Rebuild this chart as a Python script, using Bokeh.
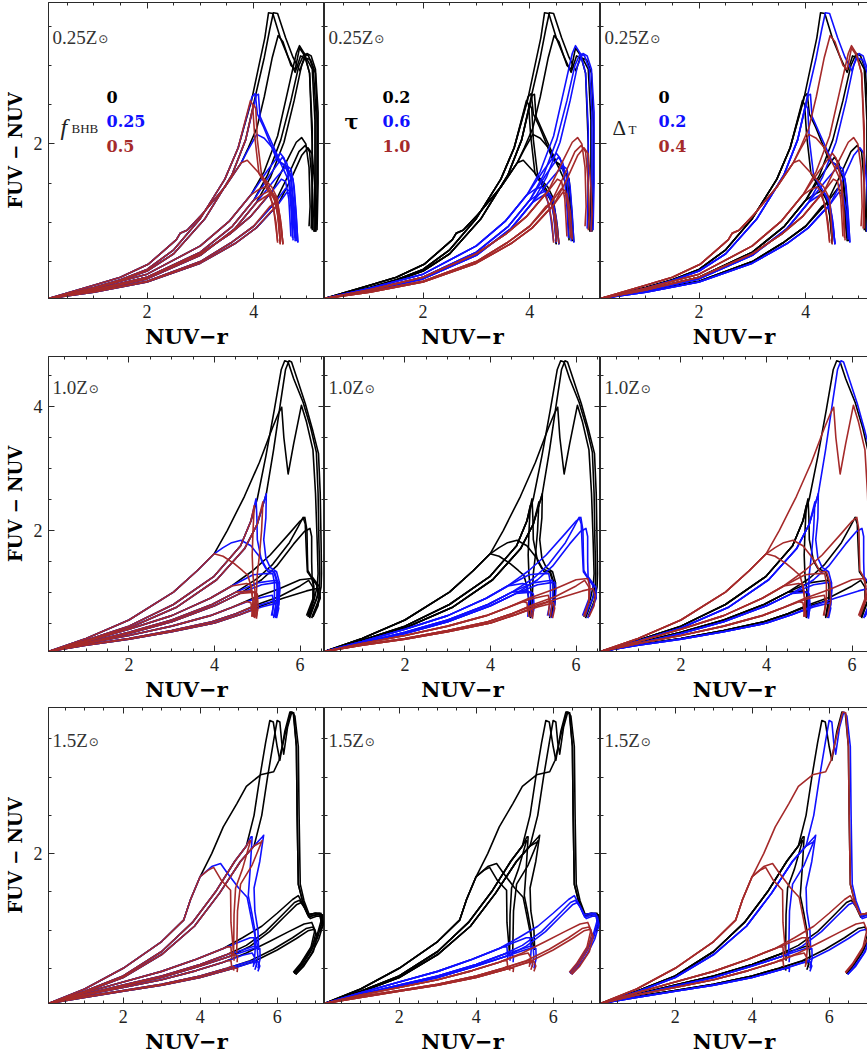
from bokeh.plotting import figure
from bokeh.layouts import gridplot
from bokeh.models import Range1d, LinearAxis, SingleIntervalTicker, ColumnDataSource
from bokeh.core.properties import value
from bokeh.embed import file_html
from bokeh.resources import INLINE

# ---------------- labels / parameters ----------------
METALLICITY = ["0.25", "1.0", "1.5"]
F_BHB = ["0", "0.25", "0.5"]
TAU = ["0.2", "0.6", "1.0"]
DELTA_T = ["0", "0.2", "0.4"]
X_RANGES = [(0.15, 5.33), (0.12, 6.57), (0.06, 7.23)]
Y_RANGES = [(0.03, 3.80), (0.04, 4.81), (0.04, 3.91)]

# ---------------- tracks: rise (shared by f_BHB) + tail per f_BHB ----------------
# Z1 = 0.25 Zsun ; T0/T1/T2 = tau 0.2/0.6/1.0 ; D0/D1/D2 = Delta_T 0/0.2/0.4 ; F0/F1/F2 = f_BHB 0/0.25/0.5
Z1_RISE_T0_D0 = [(0.15,0.03),(1.0,0.17),(1.5,0.27),(2.0,0.4),(2.5,0.65),(3.0,1.05),(3.46,1.55),(3.71,1.95)]
Z1_T0_D0_F0 = [(3.96,2.55),(4.1,3.0),(4.21,3.35),(4.28,3.67),(4.36,3.66),(4.5,3.35),(4.65,3.1),(4.78,2.91),(4.88,3.12),(5.0,3.08),(5.1,2.95),(5.15,2.3),(5.15,1.5),(5.13,0.88)]
Z1_T0_D0_F1 = [(3.97,2.6),(4.03,2.64),(4.07,2.38),(4.19,2.21),(4.44,1.79),(4.56,1.74),(4.7,1.58),(4.76,1.2),(4.8,0.76)]
Z1_T0_D0_F2 = [(3.94,2.55),(3.98,2.5),(4.02,2.1),(4.1,1.62),(4.28,1.42),(4.42,1.25),(4.48,0.95),(4.5,0.72)]
Z1_RISE_T0_D1 = [(0.15,0.03),(1.0,0.16),(1.5,0.26),(2.0,0.38),(2.5,0.6),(3.09,1.05),(3.59,1.6),(3.85,2.05)]
Z1_T0_D1_F0 = [(4.03,2.6),(4.2,3.1),(4.3,3.45),(4.37,3.67),(4.45,3.66),(4.6,3.35),(4.74,3.1),(4.87,2.93),(4.95,3.1),(5.07,3.07),(5.16,2.9),(5.2,2.2),(5.19,1.4),(5.17,0.88)]
Z1_T0_D1_F1 = [(4.05,2.62),(4.09,2.63),(4.12,2.35),(4.25,2.15),(4.5,1.77),(4.62,1.7),(4.74,1.55),(4.79,1.15),(4.83,0.75)]
Z1_T0_D1_F2 = [(4.0,2.5),(4.04,2.45),(4.07,2.05),(4.15,1.6),(4.33,1.4),(4.46,1.22),(4.52,0.95),(4.55,0.72)]
Z1_RISE_T0_D2 = [(0.15,0.03),(1.0,0.2),(1.5,0.3),(2.03,0.47),(2.45,0.72),(2.55,0.78),(2.62,0.86),(2.75,0.9),(3.03,1.1),(3.46,1.45),(3.77,1.76)]
Z1_T0_D2_F0 = [(3.9,1.95),(4.06,2.2),(4.2,2.6),(4.35,3.1),(4.46,3.38),(4.55,3.3),(4.7,3.0),(4.78,2.95),(4.86,3.22),(4.96,3.12),(5.05,2.9),(5.1,2.0),(5.1,0.92)]
Z1_T0_D2_F1 = [(3.9,1.93),(4.06,2.12),(4.2,2.07),(4.34,1.96),(4.53,1.72),(4.68,1.5),(4.72,1.1),(4.74,0.77)]
Z1_T0_D2_F2 = [(3.88,1.79),(4.03,1.68),(4.34,1.45),(4.45,1.3),(4.48,1.0),(4.5,0.72)]
Z1_RISE_T1_D0 = [(0.15,0.03),(1.0,0.14),(2.0,0.3),(3.0,0.62),(3.6,0.95),(4.0,1.28)]
Z1_T1_D0_F0 = [(4.26,1.6),(4.51,2.05),(4.7,2.55),(4.85,3.0),(4.95,3.15),(5.03,3.12),(5.12,2.95),(5.17,2.4),(5.17,1.5),(5.15,0.88)]
Z1_T1_D0_F1 = [(4.3,1.6),(4.54,1.83),(4.62,1.76),(4.7,1.55),(4.74,1.2),(4.78,0.76)]
Z1_T1_D0_F2 = [(4.15,1.35),(4.29,1.4),(4.38,1.32),(4.45,1.1),(4.5,0.74)]
Z1_RISE_T1_D1 = [(0.15,0.03),(1.0,0.13),(2.0,0.28),(3.0,0.58),(3.65,0.92),(4.05,1.25)]
Z1_T1_D1_F0 = [(4.32,1.58),(4.57,2.02),(4.76,2.55),(4.9,3.0),(5.0,3.15),(5.08,3.12),(5.16,2.95),(5.21,2.4),(5.21,1.5),(5.19,0.9)]
Z1_T1_D1_F1 = [(4.4,1.55),(4.62,1.72),(4.7,1.68),(4.76,1.45),(4.8,1.1),(4.83,0.74)]
Z1_T1_D1_F2 = [(4.2,1.32),(4.35,1.38),(4.43,1.3),(4.5,1.05),(4.55,0.72)]
Z1_RISE_T1_D2 = [(0.15,0.03),(1.0,0.16),(2.0,0.34),(3.0,0.7),(3.55,1.02),(3.95,1.35)]
Z1_T1_D2_F0 = [(4.2,1.65),(4.45,2.1),(4.65,2.7),(4.8,3.15),(4.86,3.25),(4.95,3.15),(5.05,2.9),(5.1,2.2),(5.1,1.4),(5.08,0.92)]
Z1_T1_D2_F1 = [(4.25,1.65),(4.5,1.88),(4.57,1.82),(4.65,1.6),(4.7,1.2),(4.73,0.8)]
Z1_T1_D2_F2 = [(4.1,1.42),(4.22,1.45),(4.3,1.38),(4.38,1.15),(4.45,0.76)]
Z1_RISE_T2_D0 = [(0.15,0.03),(1.0,0.12),(2.0,0.25),(3.0,0.5),(3.6,0.75),(4.0,0.95)]
Z1_T2_D0_F0 = [(4.4,1.25),(4.65,1.6),(4.85,1.9),(4.97,1.98),(5.05,1.9),(5.1,1.5),(5.12,1.1),(5.1,0.9)]
Z1_T2_D0_F1 = [(4.4,1.25),(4.6,1.43),(4.67,1.4),(4.72,1.2),(4.75,0.95),(4.78,0.8)]
Z1_T2_D0_F2 = [(4.3,1.2),(4.4,1.25),(4.45,1.15),(4.48,0.95),(4.5,0.75)]
Z1_RISE_T2_D1 = [(0.15,0.03),(1.0,0.11),(2.0,0.24),(3.0,0.48),(3.65,0.73),(4.05,0.93)]
Z1_T2_D1_F0 = [(4.45,1.22),(4.7,1.55),(4.9,1.85),(5.02,1.95),(5.1,1.87),(5.15,1.45),(5.17,1.1),(5.15,0.88)]
Z1_T2_D1_F1 = [(4.45,1.22),(4.62,1.38),(4.7,1.36),(4.76,1.15),(4.8,0.78)]
Z1_T2_D1_F2 = [(4.3,1.12),(4.42,1.2),(4.48,1.1),(4.52,0.9),(4.55,0.73)]
Z1_RISE_T2_D2 = [(0.15,0.03),(1.0,0.14),(2.0,0.3),(3.0,0.6),(3.55,0.85),(3.95,1.08)]
Z1_T2_D2_F0 = [(4.35,1.4),(4.6,1.75),(4.8,2.02),(4.9,2.08),(4.98,2.0),(5.04,1.7),(5.06,1.2),(5.04,0.95)]
Z1_T2_D2_F1 = [(4.35,1.4),(4.52,1.55),(4.6,1.52),(4.66,1.3),(4.7,0.82)]
Z1_T2_D2_F2 = [(4.22,1.3),(4.28,1.36),(4.35,1.25),(4.42,1.0),(4.45,0.74)]

# Z2 = 1.0 Zsun
Z2_RISE_T0_D0 = [(0.12,0.04),(1.0,0.22),(2.0,0.45),(3.04,0.8),(3.98,1.25),(4.61,1.75),(4.85,2.15)]
Z2_T0_D0_F0 = [(5.0,2.51),(5.2,3.2),(5.4,3.96),(5.56,4.6),(5.64,4.74),(5.72,4.72),(5.85,4.45),(6.07,4.07),(6.25,3.65),(6.38,3.26),(6.42,2.6),(6.44,1.8),(6.46,1.3),(6.45,1.1),(6.38,0.88),(6.22,0.58)]
Z2_T0_D0_F1 = [(4.97,2.51),(4.99,2.2),(5.0,1.85),(5.1,1.5),(5.2,1.38),(5.38,1.33),(5.46,1.17),(5.47,0.8),(5.38,0.58)]
Z2_T0_D0_F2 = [(4.93,2.4),(4.9,2.0),(4.88,1.6),(4.9,1.25),(4.95,1.0),(4.93,0.58)]
Z2_RISE_T0_D1 = [(0.12,0.04),(1.0,0.21),(2.0,0.42),(3.1,0.75),(4.05,1.2),(4.7,1.7),(5.0,2.1)]
Z2_T0_D1_F0 = [(5.21,2.59),(5.38,3.3),(5.55,4.1),(5.66,4.6),(5.74,4.74),(5.8,4.72),(5.93,4.45),(6.12,4.05),(6.3,3.6),(6.43,3.24),(6.47,2.6),(6.49,1.8),(6.5,1.3),(6.49,1.08),(6.42,0.85),(6.28,0.6)]
Z2_T0_D1_F1 = [(5.21,2.59),(5.2,2.2),(5.15,1.85),(5.2,1.55),(5.3,1.4),(5.45,1.33),(5.52,1.15),(5.5,0.8),(5.42,0.6)]
Z2_T0_D1_F2 = [(5.13,2.46),(5.1,2.0),(5.05,1.6),(5.0,1.3),(4.98,1.0),(4.97,0.6)]
Z2_RISE_T0_D2 = [(0.12,0.04),(1.0,0.25),(2.0,0.55),(3.04,1.0),(3.6,1.35),(3.99,1.62)]
Z2_T0_D2_F0 = [(4.3,2.0),(4.7,2.55),(5.05,3.1),(5.35,3.65),(5.5,3.9),(5.57,3.99),(5.62,3.5),(5.72,2.91),(5.85,3.4),(6.03,4.02),(6.15,3.75),(6.3,3.3),(6.36,2.6),(6.4,1.8),(6.42,1.3),(6.4,1.1),(6.33,0.88),(6.18,0.6)]
Z2_T0_D2_F1 = [(4.2,1.72),(4.4,1.8),(4.62,1.84),(4.85,1.75),(5.09,1.54),(5.25,1.33),(5.4,1.33),(5.48,1.15),(5.5,0.85),(5.42,0.6)]
Z2_T0_D2_F2 = [(4.2,1.58),(4.46,1.46),(4.65,1.35),(4.78,1.27),(4.85,1.1),(4.9,0.85),(4.92,0.6)]
Z2_RISE_T1_D0 = [(0.12,0.04),(1.0,0.18),(2.0,0.35),(3.0,0.55),(3.94,0.8),(4.5,1.0)]
Z2_T1_D0_F0 = [(5.0,1.22),(5.36,1.45),(5.75,1.8),(5.95,2.05),(6.07,2.21),(6.12,2.1),(6.15,1.6),(6.17,1.33),(6.39,1.11),(6.42,0.95),(6.2,0.6)]
Z2_T1_D0_F1 = [(5.0,1.15),(5.3,1.18),(5.44,1.19),(5.47,1.08),(5.45,0.85),(5.38,0.6)]
Z2_T1_D0_F2 = [(4.85,1.02),(4.93,1.0),(4.97,0.8),(4.93,0.6)]
Z2_RISE_T1_D1 = [(0.12,0.04),(1.0,0.17),(2.0,0.33),(3.0,0.52),(4.0,0.78),(4.6,0.98)]
Z2_T1_D1_F0 = [(5.1,1.2),(5.45,1.42),(5.85,1.78),(6.1,1.98),(6.23,2.03),(6.27,1.9),(6.27,1.5),(6.28,1.25),(6.46,1.08),(6.47,0.9),(6.27,0.58)]
Z2_T1_D1_F1 = [(5.1,1.12),(5.38,1.15),(5.5,1.16),(5.53,1.05),(5.5,0.8),(5.43,0.58)]
Z2_T1_D1_F2 = [(4.95,1.0),(5.0,0.97),(5.02,0.75),(4.97,0.58)]
Z2_RISE_T1_D2 = [(0.12,0.04),(1.0,0.2),(2.0,0.4),(3.0,0.62),(3.9,0.9),(4.4,1.1)]
Z2_T1_D2_F0 = [(4.9,1.35),(5.3,1.6),(5.75,1.95),(6.0,2.15),(6.11,2.21),(6.16,2.0),(6.17,1.6),(6.18,1.35),(6.3,1.2),(6.33,0.95),(6.15,0.62)]
Z2_T1_D2_F1 = [(4.9,1.28),(5.2,1.3),(5.36,1.3),(5.4,1.15),(5.4,0.85),(5.33,0.62)]
Z2_T1_D2_F2 = [(4.75,1.14),(4.85,1.12),(4.9,0.85),(4.87,0.6)]
Z2_RISE_T2_D0 = [(0.12,0.04),(1.0,0.15),(2.0,0.25),(3.0,0.38),(3.94,0.52),(4.5,0.65)]
Z2_T2_D0_F0 = [(5.0,0.8),(5.52,0.93),(6.0,1.1),(6.2,1.19),(6.3,1.08),(6.3,0.85),(6.2,0.6)]
Z2_T2_D0_F1 = [(5.0,0.78),(5.3,0.84),(5.4,0.87),(5.43,0.78),(5.4,0.6)]
Z2_T2_D0_F2 = [(4.85,0.75),(4.93,0.72),(4.95,0.6)]
Z2_RISE_T2_D1 = [(0.12,0.04),(1.0,0.14),(2.0,0.24),(3.0,0.36),(4.0,0.5),(4.6,0.64)]
Z2_T2_D1_F0 = [(5.1,0.78),(5.6,0.9),(6.15,1.02),(6.39,1.06),(6.45,0.95),(6.42,0.78),(6.3,0.6)]
Z2_T2_D1_F1 = [(5.1,0.76),(5.38,0.81),(5.47,0.83),(5.5,0.74),(5.45,0.58)]
Z2_T2_D1_F2 = [(4.95,0.73),(5.0,0.7),(4.98,0.57)]
Z2_RISE_T2_D2 = [(0.12,0.04),(1.0,0.17),(2.0,0.3),(3.0,0.45),(3.9,0.62),(4.4,0.75)]
Z2_T2_D2_F0 = [(4.9,0.9),(5.5,1.05),(6.0,1.2),(6.27,1.22),(6.32,1.1),(6.3,0.85),(6.18,0.62)]
Z2_T2_D2_F1 = [(4.9,0.88),(5.2,0.93),(5.35,0.95),(5.38,0.85),(5.35,0.62)]
Z2_T2_D2_F2 = [(4.75,0.85),(4.85,0.83),(4.9,0.6)]

# Z3 = 1.5 Zsun
Z3_RISE_T0_D0 = [(0.06,0.04),(1.0,0.2),(2.0,0.4),(3.0,0.72),(3.8,1.1),(4.4,1.5),(4.9,1.9),(5.2,2.1)]
Z3_T0_D0_F0 = [(5.4,2.5),(5.55,3.0),(5.7,3.45),(5.81,3.74),(5.9,3.72),(6.0,3.4),(6.07,3.22),(6.2,3.6),(6.33,3.85),(6.42,3.83),(6.5,3.4),(6.52,2.5),(6.55,1.6),(6.65,1.4),(6.8,1.2),(7.0,1.22),(7.14,1.22),(7.17,1.1),(7.1,1.0)]
Z3_T0_D0_F1 = [(5.32,2.22),(5.35,2.22),(5.3,1.8),(5.25,1.45),(5.35,1.2),(5.42,1.0),(5.45,0.75)]
Z3_T0_D0_F2 = [(5.28,2.17),(5.31,2.17),(5.1,1.8),(4.92,1.55),(4.88,1.2),(4.87,0.72)]
Z3_RISE_T0_D1 = [(0.06,0.04),(1.0,0.19),(2.0,0.38),(3.0,0.68),(3.85,1.05),(4.5,1.48),(5.05,1.9),(5.4,2.1)]
Z3_T0_D1_F0 = [(5.6,2.5),(5.75,3.0),(5.9,3.45),(6.0,3.74),(6.07,3.72),(6.12,3.45),(6.17,3.3),(6.27,3.65),(6.38,3.85),(6.46,3.8),(6.55,3.4),(6.57,2.5),(6.6,1.6),(6.7,1.38),(6.85,1.18),(7.05,1.2),(7.18,1.2),(7.2,1.08),(7.12,0.98)]
Z3_T0_D1_F1 = [(5.62,2.22),(5.65,2.24),(5.55,1.9),(5.4,1.55),(5.42,1.25),(5.5,1.0),(5.52,0.74)]
Z3_T0_D1_F2 = [(5.58,2.15),(5.61,2.17),(5.35,1.85),(5.05,1.6),(4.97,1.25),(4.95,0.7)]
Z3_RISE_T0_D2 = [(0.06,0.04),(1.0,0.23),(2.0,0.5),(3.0,0.85),(3.57,1.13),(3.75,1.4),(4.0,1.7)]
Z3_T0_D2_F0 = [(4.3,2.0),(4.6,2.35),(4.95,2.65),(5.2,2.88),(5.57,3.03),(5.91,3.07),(6.05,3.22),(6.2,3.55),(6.35,3.85),(6.43,3.84),(6.5,3.4),(6.52,2.5),(6.55,1.6),(6.65,1.4),(6.8,1.2),(7.0,1.22),(7.12,1.2),(7.15,1.08)]
Z3_T0_D2_F1 = [(4.3,1.83),(4.53,1.87),(4.7,1.75),(5.0,1.55),(5.22,1.43),(5.39,1.0),(5.5,0.78)]
Z3_T0_D2_F2 = [(4.2,1.78),(4.35,1.82),(4.55,1.65),(4.79,1.52),(4.8,1.1),(4.87,0.68)]
Z3_RISE_T1_D0 = [(0.06,0.04),(1.0,0.16),(2.0,0.28),(3.0,0.4),(4.0,0.55),(4.7,0.68)]
Z3_T1_D0_F0 = [(5.2,0.8),(5.7,0.98),(6.1,1.18),(6.45,1.36),(6.58,1.39),(6.7,1.3),(6.82,1.17),(7.0,1.2),(7.12,1.2),(7.16,1.1),(7.05,0.9),(6.85,0.7),(6.6,0.52),(6.45,0.43)]
Z3_T1_D0_F1 = [(5.1,0.74),(5.4,0.79),(5.48,0.78),(5.5,0.65),(5.45,0.52)]
Z3_T1_D0_F2 = [(4.8,0.7),(4.88,0.68),(4.88,0.6)]
Z3_RISE_T1_D1 = [(0.06,0.04),(1.0,0.15),(2.0,0.27),(3.0,0.38),(4.0,0.53),(4.8,0.66)]
Z3_T1_D1_F0 = [(5.3,0.79),(5.8,0.98),(6.2,1.18),(6.5,1.33),(6.63,1.36),(6.74,1.27),(6.86,1.15),(7.02,1.18),(7.15,1.18),(7.19,1.07),(7.08,0.88),(6.88,0.68),(6.62,0.5),(6.48,0.42)]
Z3_T1_D1_F1 = [(5.2,0.73),(5.45,0.77),(5.55,0.76),(5.56,0.63),(5.5,0.5)]
Z3_T1_D1_F2 = [(4.9,0.68),(4.97,0.66),(4.96,0.58)]
Z3_RISE_T1_D2 = [(0.06,0.04),(1.0,0.18),(2.0,0.32),(3.0,0.46),(3.9,0.62),(4.6,0.76)]
Z3_T1_D2_F0 = [(5.1,0.9),(5.6,1.05),(6.0,1.22),(6.4,1.4),(6.55,1.45),(6.68,1.33),(6.8,1.2),(6.98,1.22),(7.1,1.22),(7.14,1.12),(7.03,0.92),(6.83,0.72),(6.58,0.53),(6.43,0.44)]
Z3_T1_D2_F1 = [(5.0,0.84),(5.3,0.9),(5.4,0.9),(5.43,0.75),(5.4,0.55)]
Z3_T1_D2_F2 = [(4.7,0.78),(4.8,0.78),(4.82,0.62)]
Z3_RISE_T2_D0 = [(0.06,0.04),(1.0,0.13),(2.0,0.21),(3.0,0.29),(4.0,0.4),(4.7,0.5)]
Z3_T2_D0_F0 = [(5.3,0.6),(5.9,0.75),(6.4,0.9),(6.75,1.02),(6.93,1.04),(7.0,0.95),(6.9,0.75),(6.65,0.55),(6.45,0.43)]
Z3_T2_D0_F1 = [(5.2,0.58),(5.42,0.61),(5.47,0.55),(5.42,0.48)]
Z3_T2_D0_F2 = [(4.8,0.52),(4.88,0.52),(4.87,0.47)]
Z3_RISE_T2_D1 = [(0.06,0.04),(1.0,0.12),(2.0,0.2),(3.0,0.28),(4.0,0.38),(4.8,0.49)]
Z3_T2_D1_F0 = [(5.4,0.59),(6.0,0.74),(6.5,0.89),(6.8,0.99),(6.97,1.01),(7.04,0.92),(6.94,0.72),(6.68,0.52),(6.48,0.42)]
Z3_T2_D1_F1 = [(5.3,0.57),(5.5,0.59),(5.55,0.53),(5.5,0.46)]
Z3_T2_D1_F2 = [(4.9,0.5),(4.97,0.5),(4.96,0.45)]
Z3_RISE_T2_D2 = [(0.06,0.04),(1.0,0.15),(2.0,0.25),(3.0,0.35),(3.9,0.47),(4.6,0.58)]
Z3_T2_D2_F0 = [(5.2,0.7),(5.8,0.85),(6.3,0.98),(6.7,1.08),(6.9,1.1),(6.98,1.0),(6.88,0.78),(6.62,0.57),(6.42,0.45)]
Z3_T2_D2_F1 = [(5.1,0.67),(5.35,0.7),(5.42,0.64),(5.38,0.52)]
Z3_T2_D2_F2 = [(4.7,0.6),(4.8,0.6),(4.82,0.52)]

# ---------------- styling / layout ----------------
COLORS = ["#000000", "#1010ff", "#a52a2a"]
FRAME_W = [276, 276, 267]
FRAME_H = [296, 295, 296]
TOP_PAD = [2, 0, 0]
BOTTOM_PAD = [58, 56, 56]
LEFT_PAD = 48
TITLE_BASE = [35, 31, 33]
SERIF = "Liberation Serif"
BOLD = "DejaVu Serif"
AX_COLOR = "#2a2a2a"


def build_tracks(zi):
    out = {}
    for t in range(3):
        for d in range(3):
            rise = globals()[f"Z{zi}_RISE_T{t}_D{d}"]
            for f in range(3):
                pts = rise + globals()[f"Z{zi}_T{t}_D{d}_F{f}"]
                out[(t, d, f)] = ([q[0] for q in pts], [q[1] for q in pts])
    return out


def make_axis(labels, label_text=None):
    ax = LinearAxis(ticker=SingleIntervalTicker(interval=2, num_minor_ticks=4))
    ax.major_tick_in = 6
    ax.major_tick_out = 0
    ax.minor_tick_in = 3
    ax.minor_tick_out = 0
    ax.axis_line_color = AX_COLOR
    ax.major_tick_line_color = AX_COLOR
    ax.minor_tick_line_color = AX_COLOR
    if labels:
        ax.major_label_text_font = SERIF
        ax.major_label_text_font_size = "18px"
        ax.major_label_text_color = "#222222"
        ax.major_label_standoff = 6
    else:
        ax.major_label_text_font_size = "0px"
        ax.major_label_text_color = None
        ax.major_label_standoff = 0
    if label_text:
        ax.axis_label = label_text
        ax.axis_label_text_font = BOLD
        ax.axis_label_text_font_style = "bold"
        ax.axis_label_text_color = "#000000"
        ax.axis_label_standoff = 3
    return ax


def put_text(p, x, y, s, font, size, color="#000000", style="normal", baseline="alphabetic"):
    p.text(x=[x], y=[y], text=[s], text_font=value(font), text_font_size=value(size),
           text_font_style=value(style), text_color=color, text_baseline=baseline, text_align="left")


rows = []
for r in range(3):
    tracks = build_tracks(r + 1)
    y0, y1 = Y_RANGES[r]
    fh = FRAME_H[r]
    row = []
    for c in range(3):
        fw = FRAME_W[c]
        x0, x1f = X_RANGES[r]
        sx = (x1f - x0) / 276.0
        x1 = x0 + sx * fw
        sy = (y1 - y0) / fh
        W = fw + (LEFT_PAD if c == 0 else 0)
        H = fh + TOP_PAD[r] + BOTTOM_PAD[r]
        p = figure(width=W, height=H, x_range=Range1d(x0, x1), y_range=Range1d(y0, y1),
                   output_backend="svg", toolbar_location=None,
                   x_axis_location=None, y_axis_location=None,
                   min_border_left=LEFT_PAD if c == 0 else 0, min_border_right=0,
                   min_border_top=TOP_PAD[r], min_border_bottom=BOTTOM_PAD[r],
                   background_fill_color="white", border_fill_color="white")
        p.xgrid.visible = False
        p.ygrid.visible = False
        if c < 2:
            p.outline_line_color = AX_COLOR
            p.outline_line_width = 1
        else:
            p.outline_line_color = None

        bax = make_axis(True, "NUV\u2212r")
        bax.axis_label_text_font_size = "21px"
        p.add_layout(bax, "below")
        p.add_layout(make_axis(False), "above")
        if c == 0:
            lax = make_axis(True, "FUV \u2212 NUV")
            lax.axis_label_text_font_size = "18px"
            lax.axis_label_standoff = 5
            p.add_layout(lax, "left")
        else:
            p.add_layout(make_axis(False), "left")
        if c < 2:
            p.add_layout(make_axis(False), "right")

        key_index = [2, 0, 1][c]
        for k in range(3):
            xs = [v[0] for key, v in tracks.items() if key[key_index] == k]
            ys = [v[1] for key, v in tracks.items() if key[key_index] == k]
            src = ColumnDataSource(dict(xs=xs, ys=ys))
            p.multi_line(xs="xs", ys="ys", source=src, line_color=COLORS[k],
                         line_width=1.6, line_join="round")

        def X(off):
            return x0 + off * sx

        def Y(off):
            return y1 - off * sy

        # metallicity label
        ztxt = METALLICITY[r] + "Z"
        wz = (0.5 * sum(ch.isdigit() for ch in ztxt) + 0.25 * ztxt.count(".") + 0.611) * 19
        put_text(p, X(4), Y(TITLE_BASE[r]), ztxt, SERIF, "19px", "#333333")
        put_text(p, X(4 + wz + 1), Y(TITLE_BASE[r] + 1), "\u2299", "DejaVu Sans", "12px",
                 "#333333", baseline="middle")

        # legends (top row only)
        if r == 0:
            vals = [F_BHB, TAU, DELTA_T][c]
            for k, (v, off) in enumerate(zip(vals, [94, 118, 143])):
                put_text(p, X(58), Y(off), v, BOLD, "16px", COLORS[k], style="bold", baseline="middle")
            if c == 0:
                put_text(p, X(12), Y(124), "f", SERIF, "24px", "#222222", style="italic")
                put_text(p, X(23), Y(126), "BHB", SERIF, "13px", "#222222")
            elif c == 1:
                put_text(p, X(20), Y(119), "\u03c4", BOLD, "21px", "#000000", style="bold", baseline="middle")
            else:
                put_text(p, X(12), Y(125), "\u0394", SERIF, "21px", "#222222")
                put_text(p, X(28), Y(127), "T", SERIF, "13px", "#222222")
        row.append(p)
    rows.append(row)

grid = gridplot(rows, toolbar_location=None)
open("out.html", "w").write(file_html(grid, INLINE))
